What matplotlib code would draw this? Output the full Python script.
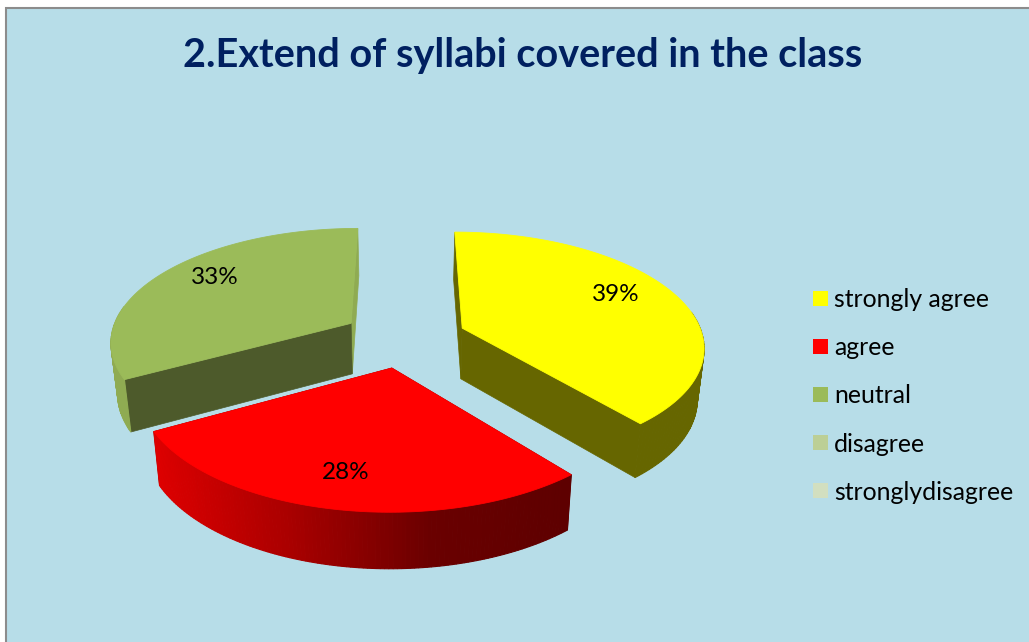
import numpy as np
import matplotlib.pyplot as plt
from matplotlib.colors import LinearSegmentedColormap
from matplotlib.patches import Rectangle

categories = ["strongly agree", "agree", "neutral", "disagree", "stronglydisagree"]
values = [39, 28, 33, 0, 0]
colors = ["#ffff00", "#ff0000", "#9bbb59", "#bccf96", "#d2dfc0"]
title = "2.Extend of syllabi covered in the class"

BG = "#b7dde8"
FONT = "Lato"

# pie geometry, in picture pixels
CX, CY = 404, 338
RX, RY = 241, 113
PERSPECTIVE = 0.148
EXPLODE = 0.26
DEPTH = 51
SHRINK = 0.977

wall_colors = ["#666600", "#5e0000", "#4d5a2b"]
rim_colors = ["#666600", None, "#8fab52"]
red_rim = LinearSegmentedColormap.from_list("red_rim", ["#de0000", "#a80000", "#6a0000", "#5e0000"])
label_frac = [0.72, 0.82, 0.72]


def project(angle, r, mid, low=False):
    # angles run clockwise from 12 o'clock, the slice is pushed out along its middle
    gx = EXPLODE * np.sin(mid) + r * np.sin(angle)
    gy = EXPLODE * np.cos(mid) + r * np.cos(angle)
    p = 1 / (1 + PERSPECTIVE * gy)
    x = CX + RX * gx * p
    y = CY - RY * gy * p
    if low:
        x = CX + (x - CX) * SHRINK
        y = y + DEPTH * np.sqrt(p)
    return x, y


fig = plt.figure(figsize=(10.29, 6.42), dpi=100)
ax = fig.add_axes([0, 0, 1, 1])
ax.set_xlim(0, 1029)
ax.set_ylim(642, 0)
ax.axis("off")
ax.add_patch(Rectangle((6, 8), 1030, 640, facecolor=BG, edgecolor="#8c8c8c", linewidth=1.5))

total = sum(values)
start = 0.0
slices = []
for i, v in enumerate(values):
    if v == 0:
        continue
    a0 = start
    a1 = start + 2 * np.pi * v / total
    start = a1
    slices.append((i, a0, a1, (a0 + a1) / 2))

for i, a0, a1, mid in slices:
    arc = np.linspace(a0, a1, 120)
    top_x, top_y = project(arc, 1.0, mid)
    low_x, low_y = project(arc, 1.0, mid, low=True)
    ax_, ay_ = project(a0, 0.0, mid)
    bx_, by_ = project(a0, 0.0, mid, low=True)

    # radial walls, the far one of green shows only as a thin lighter sliver
    ax.fill([ax_, top_x[-1], low_x[-1], bx_], [ay_, top_y[-1], low_y[-1], by_],
            color=rim_colors[i] or wall_colors[i], linewidth=0.5, zorder=2)
    ax.fill([ax_, top_x[0], low_x[0], bx_], [ay_, top_y[0], low_y[0], by_],
            color=wall_colors[i], linewidth=0.5, zorder=2)

    # outer rim, one small quad per step so the red one can shade across
    for k in range(len(arc) - 1):
        # back part of the rim is hidden under the top face anyway
        if np.cos(arc[k]) > 0.15:
            continue
        if rim_colors[i] is None:
            c = red_rim((top_x[k] - top_x.min()) / (top_x.max() - top_x.min()))
        else:
            c = rim_colors[i]
        ax.fill([top_x[k], top_x[k + 1], low_x[k + 1], low_x[k]],
                [top_y[k], top_y[k + 1], low_y[k + 1], low_y[k]],
                color=c, linewidth=0.8, zorder=3)

    ax.fill(np.r_[ax_, top_x], np.r_[ay_, top_y], color=colors[i], linewidth=0.6, zorder=4)

    lx, ly = project(mid, label_frac[i], mid)
    ax.text(lx, ly - 8, f"{values[i]}%", ha="center", va="center", fontsize=17.5,
            family=FONT, color="black", zorder=5)

ax.text(523, 56, title, ha="center", va="center", fontsize=28.5, fontweight="bold",
        family=FONT, color="#002060")

for i, name in enumerate(categories):
    y = 298 + 48.2 * i
    ax.add_patch(Rectangle((813, y - 7.5), 15, 15, facecolor=colors[i], edgecolor="none"))
    ax.text(834, y + 1.5, name, ha="left", va="center", fontsize=17.8, family=FONT, color="black")

fig.savefig("out.png", dpi=100, facecolor="white")
